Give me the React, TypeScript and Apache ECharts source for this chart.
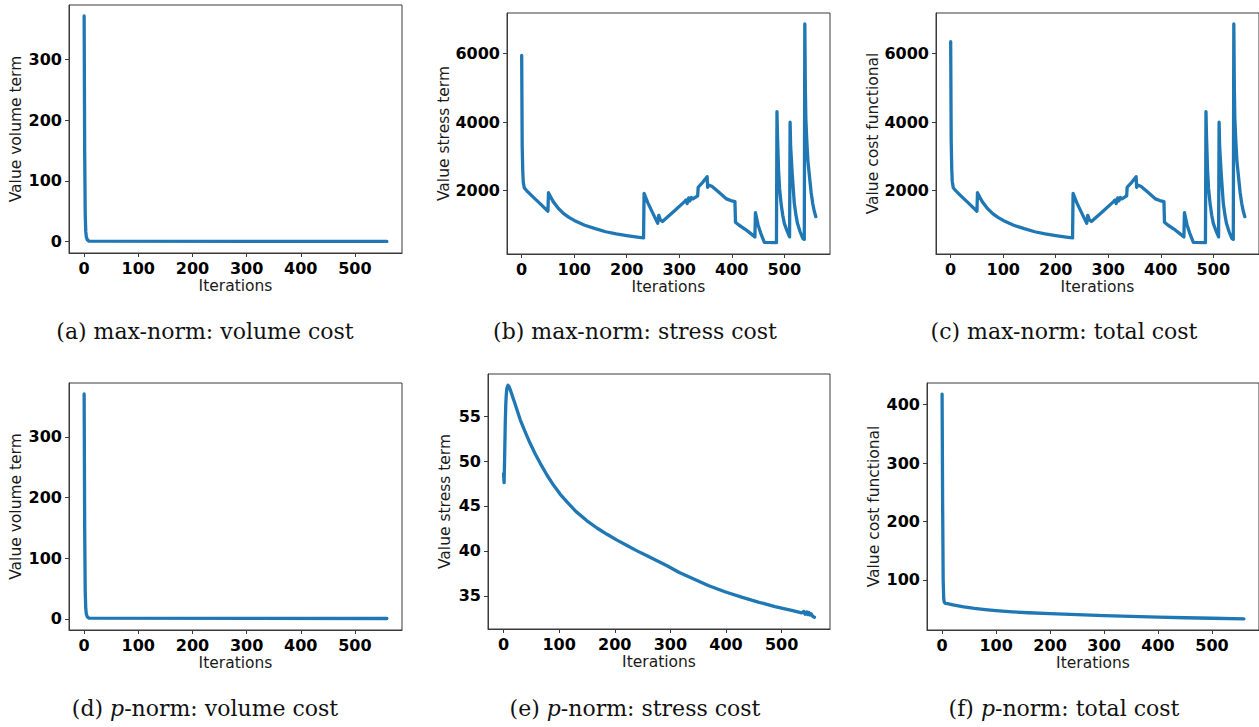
import React, { useEffect, useRef } from "react";
import * as echarts from "echarts";

// ---- tick labels ----
const X_TICKS = [0, 100, 200, 300, 400, 500];
const VOL_TICKS = [0, 100, 200, 300];
const STRESS_MAX_TICKS = [2000, 4000, 6000];
const STRESS_P_TICKS = [35, 40, 45, 50, 55];
const TOTAL_P_TICKS = [100, 200, 300, 400];

// ---- series values: [iteration, value] ----
const volumeMax = [
  [0, 371], [1, 150], [2, 45], [3, 17], [4, 8], [6, 3], [9, 1], [559, 0.5],
];

const stressMax = [
  [0, 5950], [1, 3300], [2, 2600], [3, 2250], [5, 2080], [10, 1990],
  [20, 1840], [35, 1620], [50, 1400], [51, 1940], [55, 1820], [60, 1680],
  [70, 1480], [80, 1330], [90, 1220], [100, 1130], [120, 990], [140, 890],
  [160, 800], [180, 740], [200, 690], [220, 645], [232, 620], [233, 1920],
  [240, 1650], [250, 1330], [259, 1050], [261, 1280], [264, 1150], [268, 1100],
  [290, 1400], [310, 1680], [313, 1730], [315, 1620], [318, 1790], [320, 1700],
  [323, 1800], [326, 1760], [335, 1850], [336, 2100], [345, 2250], [350, 2350],
  [353, 2410], [354, 2100], [356, 2160], [362, 2130], [375, 1960], [390, 1760],
  [398, 1710], [406, 1680], [407, 1080], [414, 990], [425, 880], [435, 760],
  [444, 650], [445, 1356], [450, 1000], [455, 760], [462, 490], [485, 480],
  [486, 4310], [487, 3600], [489, 2600], [491, 2050], [494, 1600], [497, 1280],
  [500, 1045], [505, 830], [510, 650], [511, 4000], [512, 3300], [515, 2500],
  [519, 1630], [522, 1300], [525, 1045], [530, 800], [535, 610], [538, 580],
  [539, 6870], [540, 5000], [541, 4100], [543, 3390], [545, 2850], [548, 2400],
  [551, 1950], [554, 1630], [557, 1400], [560, 1240],
];

const totalMax = [
  [0, 6350], [1, 3450], [2, 2650], [3, 2270], [5, 2085], [10, 1992],
  ...stressMax.slice(6),
];

const volumeP = [
  [0, 371], [1, 150], [2, 45], [3, 17], [4, 8], [6, 3], [9, 1], [559, 0.5],
];

const stressP = [
  [0, 48.6], [1, 47.6], [2, 50.5], [3, 54], [4, 56.3], [5, 57.5], [6, 58.1],
  [8, 58.45], [10, 58.3], [14, 57.6], [20, 56.5], [30, 54.6], [40, 53.1],
  [48, 51.95], [57, 50.8], [66, 49.75], [78, 48.45], [90, 47.3], [102, 46.3],
  [114, 45.45], [130, 44.4], [150, 43.35], [168, 42.55], [186, 41.85],
  [204, 41.2], [222, 40.6], [240, 40.0], [258, 39.45], [276, 38.9],
  [294, 38.35], [316, 37.6], [339, 36.95], [368, 36.15], [398, 35.45],
  [428, 34.85], [458, 34.3], [488, 33.8], [518, 33.38], [536, 33.1],
  [540, 33.25], [542, 32.95], [545, 33.2], [547, 32.9], [549, 33.15],
  [551, 32.85], [553, 33.0], [556, 32.7], [559, 32.6],
];

const totalP = [
  [0, 418], [1, 230], [2, 100], [3, 68], [4, 62], [6, 60], [10, 59.3],
  [20, 57.5], [40, 54], [60, 51.2], [80, 49.2], [100, 47.6], [130, 45.4],
  [160, 43.8], [200, 42.2], [250, 40.5], [300, 39], [350, 37.6], [400, 36.3],
  [450, 35.3], [500, 34.4], [559, 33.5],
];

// ---- panel layout (positions only) ----
const PANELS = [
  { data: volumeMax, yTicks: VOL_TICKS, yMin: -18.5, yMax: 389, name: "Value volume term",
    left: 69, top: 5, width: 333, height: 248, nameGap: 45, caption: "(a) max-norm: volume cost", cx: 205, cy: 331 },
  { data: stressMax, yTicks: STRESS_MAX_TICKS, yMin: 150, yMax: 7190, name: "Value stress term",
    left: 507, top: 13, width: 323, height: 241, nameGap: 54, caption: "(b) max-norm: stress cost", cx: 635, cy: 331 },
  { data: totalMax, yTicks: STRESS_MAX_TICKS, yMin: 150, yMax: 7190, name: "Value cost functional",
    left: 936, top: 13, width: 323, height: 241, nameGap: 54, caption: "(c) max-norm: total cost", cx: 1064, cy: 331 },
  { data: volumeP, yTicks: VOL_TICKS, yMin: -18.5, yMax: 389, name: "Value volume term",
    left: 69, top: 383, width: 333, height: 247, nameGap: 45, caption: "(d) {i|p}-norm: volume cost", cx: 205, cy: 708 },
  { data: stressP, yTicks: STRESS_P_TICKS, yMin: 31.3, yMax: 59.7, name: "Value stress term",
    left: 488, top: 374, width: 342, height: 255, nameGap: 35, caption: "(e) {i|p}-norm: stress cost", cx: 635, cy: 708 },
  { data: totalP, yTicks: TOTAL_P_TICKS, yMin: 14.3, yMax: 437, name: "Value cost functional",
    left: 927, top: 383, width: 333, height: 247, nameGap: 45, caption: "(f) {i|p}-norm: total cost", cx: 1064, cy: 708 },
];

const AXIS_COLOR = "#3a3a3a";
const LINE_COLOR = "#1f77b4";

export default function App() {
  const ref = useRef<HTMLDivElement>(null);

  useEffect(() => {
    if (!ref.current) return;
    const chart = echarts.init(ref.current, undefined, { renderer: "svg" });

    const tickLabel = {
      fontFamily: "DejaVu Sans",
      fontWeight: "bold" as const,
      fontSize: 16,
      color: "#000",
      formatter: (v: number) => String(v),
    };
    const nameStyle = { fontFamily: "DejaVu Sans", fontSize: 15.5, color: "#1a1a1a" };

    const grid = PANELS.map((p) => ({
      left: p.left, top: p.top, width: p.width, height: p.height,
      show: true, borderColor: AXIS_COLOR, borderWidth: 1, backgroundColor: "transparent",
    }));

    const xAxis = PANELS.map((p, i) => ({
      type: "value", gridIndex: i, min: -27.95, max: 586.95,
      name: "Iterations", nameLocation: "middle", nameGap: 25, nameTextStyle: nameStyle,
      axisLine: { show: true, onZero: false, lineStyle: { color: AXIS_COLOR, width: 1 } },
      axisTick: { show: true, length: 4, lineStyle: { color: AXIS_COLOR }, customValues: X_TICKS },
      axisLabel: { ...tickLabel, margin: 7, customValues: X_TICKS },
      splitLine: { show: false },
    }));

    const yAxis = PANELS.map((p, i) => ({
      type: "value", gridIndex: i, min: p.yMin, max: p.yMax,
      name: p.name, nameLocation: "middle", nameGap: p.nameGap, nameRotate: 90, nameTextStyle: nameStyle,
      axisLine: { show: true, onZero: false, lineStyle: { color: AXIS_COLOR, width: 1 } },
      axisTick: { show: true, length: 4, lineStyle: { color: AXIS_COLOR }, customValues: p.yTicks },
      axisLabel: { ...tickLabel, margin: 7, customValues: p.yTicks },
      splitLine: { show: false },
    }));

    const series = PANELS.map((p, i) => ({
      type: "line", xAxisIndex: i, yAxisIndex: i, data: p.data,
      showSymbol: false, symbol: "none", clip: true,
      lineStyle: { color: LINE_COLOR, width: 3.3, join: "round", cap: "round" },
    }));

    const graphic = PANELS.map((p) => ({
      type: "text", x: p.cx, y: p.cy, silent: true,
      style: {
        text: p.caption,
        fontFamily: "DejaVu Serif", fontSize: 22, fill: "#111",
        align: "center", verticalAlign: "middle",
        textAlign: "center", textVerticalAlign: "middle",
        rich: {
          i: { fontFamily: "DejaVu Serif", fontSize: 22, fontStyle: "italic", fill: "#111" },
        },
      },
    }));

    chart.setOption({
      animation: false,
      backgroundColor: "#fff",
      grid, xAxis, yAxis, series, graphic,
    });

    return () => chart.dispose();
  }, []);

  return (
    <div
      ref={ref}
      style={{ position: "fixed", left: 0, top: 0, width: 1259, height: 727, background: "#fff" }}
    />
  );
}
